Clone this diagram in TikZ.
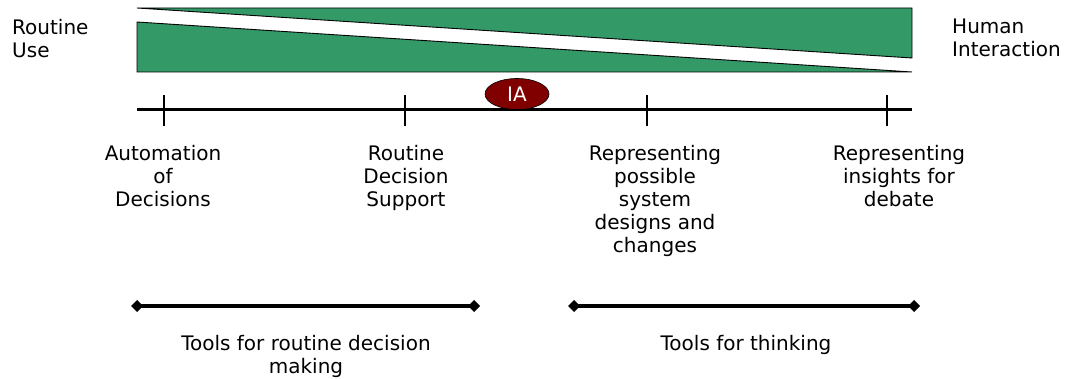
\documentclass[tikz,border=0pt]{standalone}
\usepackage{fontspec}
\setmainfont{DejaVu Sans}
\usetikzlibrary{arrows.meta,shapes.geometric}
\definecolor{bandgreen}{HTML}{339966}
\definecolor{iared}{HTML}{800000}
\tikzset{
  band/.style={fill=bandgreen,draw=black,line width=0.9pt},
  axisline/.style={line width=3pt},
  tickmark/.style={line width=2.9pt},
  lbl/.style={font=\fontsize{20}{23}\selectfont,align=center,inner sep=0pt,anchor=north},
  sidelbl/.style={font=\fontsize{20}{23}\selectfont,align=left,inner sep=0pt,anchor=north west},
  rangeline/.style={line width=3.6pt,{Diamond[length=12pt,width=12pt]}-{Diamond[length=12pt,width=12pt]}},
  iabox/.style={ellipse,fill=iared,draw=black,line width=0.6pt,minimum width=64pt,minimum height=31pt,inner sep=0pt,text=white,font=\fontsize{20}{23}\selectfont}
}
\begin{document}
\begin{tikzpicture}[x=1pt,y=-1pt]
\useasboundingbox (0,0) rectangle (1071,379);
% bands
\draw[band] (137,8) -- (912,8) -- (912,58) -- cycle;
\draw[band] (137,22) -- (912,72) -- (137,72) -- cycle;
% side labels
\node[sidelbl] (ru) at (12,19) {Routine\\Use};
\node[sidelbl] (hi) at (952,19) {Human\\Interaction};
% axis
\coordinate (axl) at (137,110);
\coordinate (axr) at (912,110);
\draw[axisline] (axl) -- (axr);
\coordinate (t1) at (164,110);
\coordinate (t2) at (405,110);
\coordinate (t3) at (647,110);
\coordinate (t4) at (887,110);
\foreach \t in {t1,t2,t3,t4}{
  \draw[tickmark] (\t) ++(0,-15) -- ++(0,31);
}
\node[iabox] (ia) at (517,94) {IA};
% tick labels
\node[lbl] (a1) at (163,145) {Automation\\of\\Decisions};
\node[lbl] (a2) at (406,145) {Routine\\Decision\\Support};
\node[lbl] (a3) at (655,145) {Representing\\possible\\system\\designs and\\changes};
\node[lbl] (a4) at (899,145) {Representing\\insights for\\debate};
% ranges
\coordinate (r1a) at (131,306);
\coordinate (r1b) at (480,306);
\coordinate (r2a) at (568,306);
\coordinate (r2b) at (920,306);
\draw[rangeline] (r1a) -- (r1b);
\draw[rangeline] (r2a) -- (r2b);
\node[lbl] (b1) at (306,335) {Tools for routine decision\\making};
\node[lbl] (b2) at (746,335) {Tools for thinking};
\end{tikzpicture}
\end{document}
